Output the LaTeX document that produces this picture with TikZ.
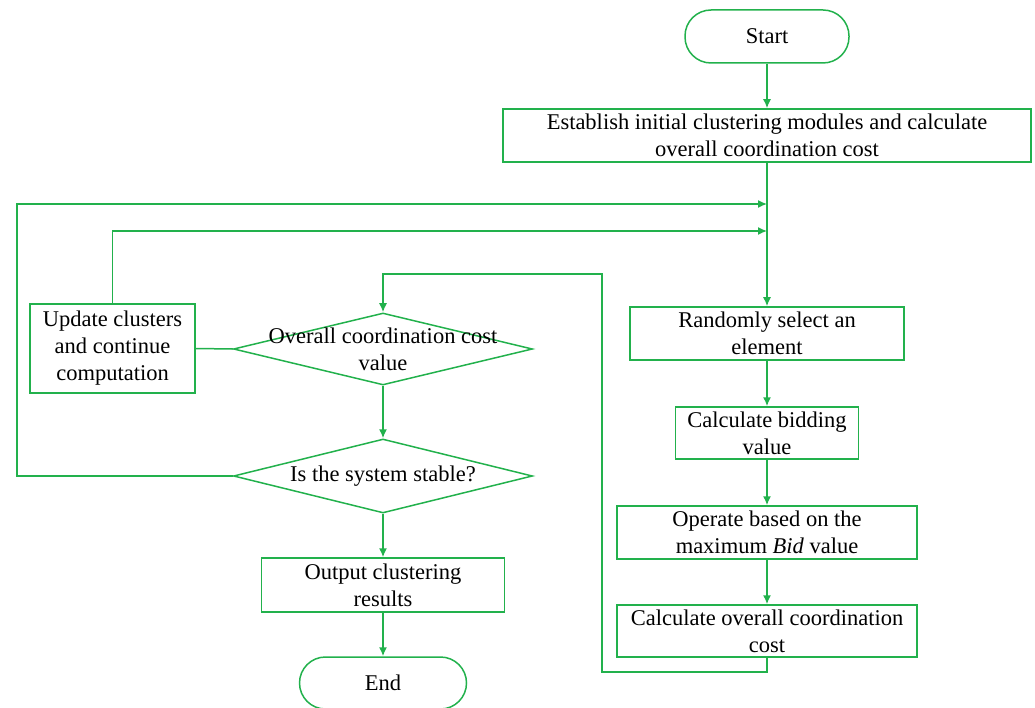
\documentclass[tikz,border=0pt]{standalone}
\usepackage{fontspec}
\setmainfont{Liberation Serif}
\usetikzlibrary{shapes.geometric,arrows.meta}
\definecolor{fg}{RGB}{34,177,76}
\begin{document}
\begin{tikzpicture}[x=1pt,y=1pt,
  every node/.style={font=\fontsize{22.5}{27}\selectfont, text=black},
  boxnode/.style={draw=fg, line width=1.5pt, rectangle, inner sep=0pt, align=center},
  termnode/.style={draw=fg, line width=1.5pt, rectangle, rounded corners=26pt, inner sep=0pt, align=center},
  dianode/.style={draw=fg, line width=1.5pt, diamond, inner sep=0pt},
  conn/.style={draw=fg, line width=1.5pt},
  arr/.style={conn, -{Latex[length=9pt,width=8pt]}}]
\useasboundingbox (0,0) rectangle (1035,-708);
\node[termnode, minimum width=164pt, minimum height=53pt] (start) at (767,-36.5) {Start};
\node[boxnode, minimum width=528pt, minimum height=53pt] (est) at (767,-135.5) {Establish initial clustering modules and calculate\\overall coordination cost};
\node[boxnode, minimum width=274pt, minimum height=53pt] (rand) at (767,-333.5) {Randomly select an\\element};
\node[boxnode, minimum width=183pt, minimum height=52pt] (bid) at (767,-433) {Calculate bidding\\value};
\node[boxnode, minimum width=300pt, minimum height=53pt] (op) at (767,-532.5) {Operate based on the\\maximum \textit{Bid} value};
\node[boxnode, minimum width=300pt, minimum height=52pt] (calc) at (767,-631) {Calculate overall coordination\\cost};
\node[boxnode, minimum width=165pt, minimum height=89pt] (upd) at (112.5,-348.5) {Update clusters\\and continue\\computation};
\node[dianode, minimum width=299pt, minimum height=72pt] (d1) at (383,-349) {};
\node[align=center] (d1t) at (d1.center) {Overall coordination cost\\value};
\node[dianode, minimum width=299pt, minimum height=74pt] (d2) at (383,-476) {};
\node[align=center] (d2t) at (d2.center) {Is the system stable?};
\node[boxnode, minimum width=243pt, minimum height=54pt] (out) at (383,-585) {Output clustering\\results};
\node[termnode, minimum width=167pt, minimum height=52pt] (end) at (383,-683) {End};
\coordinate (m1) at (767,-204);
\coordinate (m2) at (767,-231);
\coordinate (lx) at (17,-204);
\coordinate (c1) at (602,-672);
\coordinate (r) at (602,-274);
\draw[arr] (start) -- (est);
\draw[arr] (est) -- (rand);
\draw[arr] (rand) -- (bid);
\draw[arr] (bid) -- (op);
\draw[arr] (op) -- (calc);
\draw[arr] (calc.south) |- (c1) -- (r) -| (d1.north);
\draw[arr] (d1.south) -- (d2.north);
\draw[arr] (d2.south) -- (out.north);
\draw[arr] (out.south) -- (end.north);
\draw[arr] (d2.west) -| (lx) -- (m1);
\draw[arr] (upd.north) |- (m2);
\draw[conn] (upd.east) -- (d1.west);
\end{tikzpicture}
\end{document}
